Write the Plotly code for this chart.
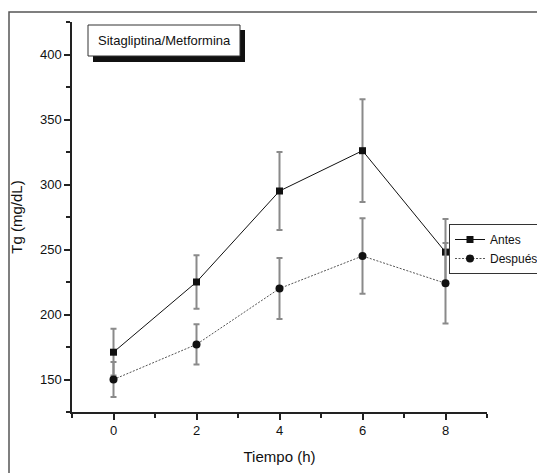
import plotly.graph_objects as go

x_hours = [0, 2, 4, 6, 8]
antes = [171, 225, 295, 326, 248]
antes_err = [18, 20.5, 30, 39.5, 25.5]
despues = [150, 177, 220, 245, 224]
despues_err = [13.5, 15.5, 23.5, 29, 31]
series_names = ["Antes", "Después"]
title_text = "Sitagliptina/Metformina"
x_title = "Tiempo (h)"
y_title = "Tg (mg/dL)"

FONT = "Liberation Sans, Arial, sans-serif"
OFF = 8  # default body margin of the page
W, H = 545 - OFF, 473 - OFF
# plot area in page pixels: x 72..487, y 22..412
ML = 72 - OFF
MT = 22 - OFF
MR = W - (487 - OFF)
MB = H - (412 - OFF)
PW, PH = W - ML - MR, H - MT - MB

def px(xp):
    return (xp - OFF - ML) / PW

def py(yp):
    return (H - MB - (yp - OFF)) / PH

fig = go.Figure()
fig.add_trace(go.Scatter(
    x=x_hours, y=antes, name=series_names[0], mode="lines+markers",
    line=dict(color="#111111", width=1),
    marker=dict(symbol="square", size=7, color="#111111"),
    error_y=dict(type="data", array=antes_err, visible=True, color="#8a8a8a", thickness=2, width=3),
))
fig.add_trace(go.Scatter(
    x=x_hours, y=despues, name=series_names[1], mode="lines+markers",
    line=dict(color="#555555", width=1, dash="2px,1.5px"),
    marker=dict(symbol="circle", size=8, color="#111111"),
    error_y=dict(type="data", array=despues_err, visible=True, color="#8a8a8a", thickness=2, width=3),
))

# title box with shadow
fig.add_shape(type="rect", xref="paper", yref="paper", layer="above",
              x0=px(93), x1=px(245), y0=py(62), y1=py(30),
              fillcolor="#111111", line=dict(width=0))
fig.add_shape(type="rect", xref="paper", yref="paper", layer="above",
              x0=px(88), x1=px(240), y0=py(56), y1=py(25),
              fillcolor="white", line=dict(color="#333333", width=1))
fig.add_annotation(text=title_text, xref="paper", yref="paper",
                   x=px(164), y=py(40.5), xanchor="center", yanchor="middle", showarrow=False,
                   font=dict(family=FONT, size=13, color="#111111"))

# outer frame
fig.add_shape(type="rect", xref="paper", yref="paper", layer="above",
              x0=px(9), x1=px(570), y0=py(500), y1=py(12),
              fillcolor="rgba(0,0,0,0)", line=dict(color="#555555", width=1.5))

fig.update_layout(
    width=W, height=H,
    margin=dict(l=ML, r=MR, t=MT, b=MB, autoexpand=False),
    paper_bgcolor="white", plot_bgcolor="white",
    font=dict(family=FONT, size=13, color="#111111"),
    showlegend=True,
    legend=dict(x=px(449), y=py(224), xanchor="left", yanchor="top",
                bgcolor="white", bordercolor="#333333", borderwidth=1,
                font=dict(family=FONT, size=12, color="#111111"),
                itemwidth=30, tracegroupgap=0),
    xaxis=dict(range=[-1, 9], tickvals=x_hours, showgrid=False, zeroline=False, automargin=False,
               showline=True, linecolor="#222222", linewidth=1.5,
               ticks="outside", ticklen=6, tickwidth=1.5, tickcolor="#222222",
               minor=dict(ticks="outside", ticklen=4, dtick=1, tickwidth=1.5, tickcolor="#222222"),
               tickfont=dict(family=FONT, size=13),
               title=dict(text=x_title, font=dict(family=FONT, size=15), standoff=14)),
    yaxis=dict(range=[125, 425], tickvals=[150, 200, 250, 300, 350, 400], showgrid=False, zeroline=False, automargin=False,
               showline=True, linecolor="#222222", linewidth=1.5,
               ticks="outside", ticklen=6, tickwidth=1.5, tickcolor="#222222",
               minor=dict(ticks="outside", ticklen=4, dtick=25, tickwidth=1.5, tickcolor="#222222"),
               tickfont=dict(family=FONT, size=13),
               title=dict(text=y_title, font=dict(family=FONT, size=15), standoff=14)),
)

fig.write_html("out.html")
